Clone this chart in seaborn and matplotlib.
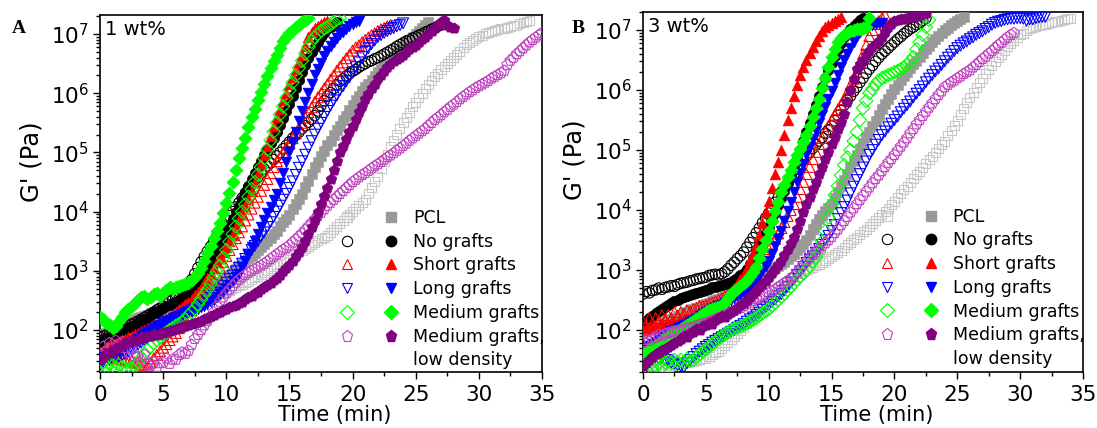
import numpy as np
import matplotlib
matplotlib.use("Agg")
import matplotlib.pyplot as plt
from matplotlib.lines import Line2D
from matplotlib.legend_handler import HandlerTuple
from matplotlib.ticker import LogLocator, MultipleLocator, NullFormatter
import seaborn as sns

OUTPUT_FILE = "out.png"
T_STEP = 0.25  # one reading every 15 s, first reading at t = 0
Y_DECADES = [1e2, 1e3, 1e4, 1e5, 1e6, 1e7]

# log10 of G' (Pa), one value per reading -- panel A, 1 wt%
a_pcl_open = [
    1.90, 1.92, 1.94, 1.96, 1.98, 1.99, 2.01, 2.03, 2.05, 2.07, 2.09, 2.10, 2.12, 2.14, 2.16, 2.18,
    2.20, 2.22, 2.24, 2.26, 2.27, 2.29, 2.31, 2.33, 2.35, 2.37, 2.39, 2.41, 2.43, 2.45, 2.47, 2.49,
    2.50, 2.52, 2.54, 2.56, 2.57, 2.59, 2.61, 2.63, 2.65, 2.67, 2.70, 2.72, 2.75, 2.77, 2.80, 2.82,
    2.85, 2.88, 2.91, 2.94, 2.97, 3.00, 3.04, 3.07, 3.10, 3.13, 3.16, 3.19, 3.22, 3.25, 3.29, 3.32,
    3.35, 3.38, 3.41, 3.45, 3.48, 3.51, 3.54, 3.57, 3.60, 3.65, 3.70, 3.75, 3.80, 3.85, 3.90, 3.95,
    4.00, 4.05, 4.10, 4.15, 4.20, 4.30, 4.40, 4.50, 4.60, 4.72, 4.85, 4.97, 5.10, 5.20, 5.30, 5.40,
    5.50, 5.59, 5.68, 5.77, 5.85, 5.93, 6.00, 6.08, 6.15, 6.21, 6.28, 6.34, 6.40, 6.45, 6.50, 6.55,
    6.60, 6.66, 6.71, 6.77, 6.82, 6.85, 6.89, 6.92, 6.95, 6.97, 7.00, 7.02, 7.05, 7.06, 7.07, 7.09,
    7.10, 7.11, 7.12, 7.14, 7.15, 7.17, 7.19, 7.21, 7.22,
]
a_pcl_filled = [
    1.90, 1.93, 1.95, 1.98, 2.00, 2.03, 2.06, 2.09, 2.12, 2.14, 2.16, 2.18, 2.20, 2.22, 2.24, 2.26,
    2.28, 2.30, 2.32, 2.33, 2.35, 2.37, 2.39, 2.41, 2.43, 2.45, 2.47, 2.50, 2.52, 2.54, 2.56, 2.58,
    2.60, 2.63, 2.66, 2.69, 2.72, 2.76, 2.80, 2.84, 2.88, 2.93, 2.98, 3.03, 3.08, 3.12, 3.16, 3.21,
    3.25, 3.30, 3.35, 3.40, 3.45, 3.51, 3.56, 3.62, 3.68, 3.75, 3.82, 3.88, 3.95, 4.04, 4.12, 4.21,
    4.30, 4.41, 4.52, 4.64, 4.75, 4.84, 4.94, 5.03, 5.12, 5.20, 5.29, 5.37, 5.45, 5.54, 5.62, 5.71,
    5.80, 5.88, 5.95, 6.03, 6.10, 6.16, 6.23, 6.29, 6.35, 6.41, 6.47, 6.52, 6.58, 6.63, 6.68, 6.73,
    6.78, 6.84, 6.89, 6.95, 7.00, 7.05, 7.10, 7.15, 7.20,
]
a_nograft_open = [
    1.88, 1.90, 1.92, 1.93, 1.95, 1.97, 2.00, 2.02, 2.05, 2.07, 2.10, 2.12, 2.15, 2.18, 2.21, 2.24,
    2.27, 2.30, 2.34, 2.37, 2.40, 2.44, 2.48, 2.51, 2.55, 2.60, 2.65, 2.70, 2.75, 2.85, 2.95, 3.05,
    3.15, 3.24, 3.33, 3.41, 3.50, 3.59, 3.68, 3.76, 3.85, 3.93, 4.00, 4.08, 4.15, 4.23, 4.30, 4.38,
    4.45, 4.52, 4.58, 4.65, 4.72, 4.77, 4.82, 4.88, 4.94, 5.00, 5.06, 5.12, 5.18, 5.24, 5.29, 5.34,
    5.40, 5.45, 5.51, 5.56, 5.62, 5.70, 5.79, 5.87, 5.95, 6.01, 6.08, 6.14, 6.20, 6.24, 6.29, 6.33,
    6.37, 6.40, 6.44, 6.47, 6.50, 6.53, 6.55, 6.58, 6.60, 6.63, 6.66, 6.69, 6.72, 6.75, 6.79, 6.82,
    6.85, 6.88, 6.90, 6.93, 6.95, 6.98, 7.00, 7.03, 7.05, 7.08, 7.10, 7.13, 7.15,
]
a_nograft_filled = [
    1.80, 1.84, 1.86, 1.88, 1.90, 1.93, 1.95, 1.98, 2.00, 2.05, 2.04, 2.09, 2.12, 2.17, 2.15, 2.21,
    2.25, 2.30, 2.29, 2.34, 2.37, 2.41, 2.42, 2.45, 2.48, 2.51, 2.54, 2.57, 2.60, 2.66, 2.72, 2.78,
    2.85, 2.94, 3.02, 3.11, 3.20, 3.31, 3.43, 3.54, 3.65, 3.76, 3.88, 3.99, 4.10, 4.21, 4.33, 4.44,
    4.55, 4.65, 4.75, 4.85, 4.95, 5.05, 5.15, 5.25, 5.35, 5.47, 5.58, 5.70, 5.82, 5.95, 6.09, 6.22,
    6.35, 6.48, 6.60, 6.69, 6.78, 6.87, 6.95, 7.02, 7.08, 7.12, 7.15, 7.20,
]
a_short_open = [
    1.60, 1.62, 1.58, 1.55, 1.55, 1.57, 1.52, 1.50, 1.50, 1.47, 1.48, 1.45, 1.45, 1.40, 1.42, 1.38,
    1.45, 1.52, 1.58, 1.64, 1.70, 1.76, 1.83, 1.89, 1.95, 2.03, 2.10, 2.18, 2.25, 2.33, 2.40, 2.48,
    2.55, 2.62, 2.70, 2.78, 2.85, 2.95, 3.05, 3.15, 3.25, 3.35, 3.45, 3.55, 3.65, 3.75, 3.85, 3.95,
    4.05, 4.15, 4.25, 4.35, 4.45, 4.55, 4.65, 4.75, 4.85, 4.92, 5.00, 5.08, 5.15, 5.24, 5.32, 5.41,
    5.50, 5.59, 5.68, 5.76, 5.85, 5.93, 6.00, 6.08, 6.15, 6.23, 6.30, 6.38, 6.45, 6.52, 6.59, 6.65,
    6.72, 6.77, 6.81, 6.86, 6.90, 6.94, 6.98, 7.01, 7.05, 7.08, 7.10, 7.13, 7.15,
]
a_short_filled = [
    1.60, 1.65, 1.68, 1.72, 1.75, 1.78, 1.80, 1.83, 1.85, 1.88, 1.90, 1.93, 1.95, 1.98, 2.00, 2.03,
    2.05, 2.08, 2.10, 2.13, 2.15, 2.19, 2.22, 2.26, 2.30, 2.35, 2.39, 2.44, 2.48, 2.53, 2.59, 2.64,
    2.70, 2.79, 2.88, 2.96, 3.05, 3.14, 3.22, 3.31, 3.40, 3.50, 3.61, 3.72, 3.85, 3.97, 4.10, 4.22,
    4.35, 4.50, 4.65, 4.80, 4.95, 5.11, 5.28, 5.44, 5.60, 5.74, 5.88, 6.01, 6.15, 6.28, 6.40, 6.53,
    6.65, 6.80, 6.95, 7.03, 7.10, 7.13, 7.17, 7.20, 7.22,
]
a_long_open = [
    1.45, 1.46, 1.48, 1.49, 1.50, 1.52, 1.55, 1.57, 1.60, 1.64, 1.68, 1.71, 1.75, 1.79, 1.83, 1.86,
    1.90, 1.94, 1.98, 2.01, 2.05, 2.08, 2.12, 2.15, 2.18, 2.21, 2.24, 2.27, 2.30, 2.33, 2.36, 2.39,
    2.42, 2.46, 2.50, 2.54, 2.58, 2.63, 2.69, 2.74, 2.80, 2.86, 2.92, 2.99, 3.05, 3.12, 3.20, 3.27,
    3.35, 3.42, 3.50, 3.58, 3.65, 3.74, 3.82, 3.91, 4.00, 4.10, 4.20, 4.30, 4.40, 4.51, 4.62, 4.74,
    4.85, 4.96, 5.08, 5.19, 5.30, 5.40, 5.50, 5.60, 5.70, 5.79, 5.88, 5.96, 6.05, 6.12, 6.20, 6.27,
    6.35, 6.44, 6.52, 6.61, 6.70, 6.76, 6.83, 6.89, 6.95, 6.98, 7.02, 7.05, 7.08, 7.10, 7.13, 7.15,
    7.18,
]
a_long_filled = [
    1.55, 1.56, 1.58, 1.59, 1.60, 1.62, 1.65, 1.67, 1.70, 1.74, 1.78, 1.81, 1.85, 1.89, 1.93, 1.96,
    2.00, 2.03, 2.06, 2.09, 2.12, 2.15, 2.17, 2.20, 2.22, 2.24, 2.26, 2.28, 2.30, 2.32, 2.34, 2.36,
    2.38, 2.41, 2.44, 2.47, 2.50, 2.55, 2.60, 2.65, 2.70, 2.76, 2.82, 2.89, 2.95, 3.06, 3.17, 3.29,
    3.40, 3.51, 3.62, 3.74, 3.85, 3.97, 4.08, 4.19, 4.30, 4.48, 4.65, 4.83, 5.00, 5.18, 5.35, 5.53,
    5.70, 5.85, 6.00, 6.15, 6.30, 6.41, 6.51, 6.62, 6.72, 6.79, 6.86, 6.93, 7.00, 7.04, 7.09, 7.13,
    7.17, 7.20, 7.22,
]
a_medium_open = [
    1.40, 1.45, 1.38, 1.42, 1.40, 1.36, 1.41, 1.37, 1.35, 1.33, 1.36, 1.38, 1.45, 1.52, 1.60, 1.66,
    1.72, 1.78, 1.83, 1.87, 1.92, 1.96, 2.00, 2.03, 2.07, 2.10, 2.14, 2.17, 2.25, 2.30, 2.36, 2.44,
    2.52, 2.60, 2.68, 2.78, 2.88, 2.98, 3.08, 3.22, 3.35, 3.49, 3.62, 3.75, 3.88, 4.00, 4.12, 4.25,
    4.38, 4.50, 4.62, 4.75, 4.90, 5.05, 5.20, 5.35, 5.50, 5.64, 5.78, 5.92, 6.05, 6.18, 6.30, 6.43,
    6.55, 6.67, 6.78, 6.87, 6.95, 7.00, 7.05, 7.09, 7.12, 7.16, 7.20, 7.24, 7.27,
]
a_medium_filled = [
    2.22, 2.18, 2.12, 2.08, 2.03, 2.06, 2.15, 2.22, 2.30, 2.35, 2.40, 2.46, 2.50, 2.55, 2.58, 2.53,
    2.55, 2.60, 2.62, 2.58, 2.62, 2.68, 2.72, 2.70, 2.72, 2.75, 2.76, 2.78, 2.80, 2.85, 2.90, 2.97,
    3.05, 3.17, 3.30, 3.42, 3.55, 3.67, 3.80, 3.97, 4.15, 4.32, 4.50, 4.70, 4.90, 5.08, 5.25, 5.43,
    5.60, 5.74, 5.88, 6.02, 6.15, 6.29, 6.42, 6.54, 6.65, 6.77, 6.88, 6.95, 7.02, 7.07, 7.12, 7.16,
    7.20, 7.24, 7.27,
]
a_lowdens_open = [
    1.60, 1.72, 1.65, 1.78, 1.75, 1.82, 1.70, 1.80, 1.70, 1.62, 1.68, 1.55, 1.55, 1.48, 1.58, 1.42,
    1.40, 1.46, 1.38, 1.44, 1.45, 1.52, 1.43, 1.50, 1.50, 1.58, 1.62, 1.60, 1.65, 1.75, 1.85, 1.92,
    2.00, 2.08, 2.15, 2.22, 2.30, 2.40, 2.48, 2.55, 2.62, 2.68, 2.74, 2.80, 2.85, 2.89, 2.93, 2.97,
    3.00, 3.03, 3.06, 3.09, 3.12, 3.16, 3.20, 3.24, 3.28, 3.32, 3.36, 3.39, 3.43, 3.48, 3.53, 3.58,
    3.63, 3.69, 3.75, 3.81, 3.87, 3.93, 3.98, 4.04, 4.10, 4.15, 4.20, 4.25, 4.30, 4.35, 4.40, 4.45,
    4.50, 4.54, 4.58, 4.62, 4.65, 4.69, 4.73, 4.77, 4.80, 4.84, 4.88, 4.92, 4.95, 4.99, 5.03, 5.07,
    5.11, 5.15, 5.20, 5.24, 5.28, 5.32, 5.36, 5.40, 5.45, 5.50, 5.55, 5.59, 5.63, 5.68, 5.72, 5.77,
    5.81, 5.85, 5.90, 5.94, 5.98, 6.02, 6.05, 6.09, 6.12, 6.15, 6.18, 6.21, 6.25, 6.28, 6.31, 6.34,
    6.38, 6.48, 6.55, 6.60, 6.66, 6.71, 6.76, 6.81, 6.86, 6.90, 6.94, 6.98, 7.02,
]
a_lowdens_filled = [
    1.50, 1.55, 1.60, 1.62, 1.65, 1.70, 1.72, 1.75, 1.78, 1.80, 1.83, 1.82, 1.85, 1.88, 1.86, 1.89,
    1.90, 1.93, 1.92, 1.94, 1.95, 1.97, 1.99, 2.00, 2.02, 2.04, 2.05, 2.07, 2.08, 2.10, 2.12, 2.13,
    2.15, 2.18, 2.20, 2.23, 2.25, 2.28, 2.30, 2.33, 2.35, 2.38, 2.40, 2.43, 2.45, 2.48, 2.52, 2.55,
    2.58, 2.62, 2.65, 2.69, 2.72, 2.76, 2.80, 2.84, 2.88, 2.93, 2.99, 3.04, 3.10, 3.17, 3.25, 3.32,
    3.40, 3.51, 3.62, 3.74, 3.85, 3.99, 4.12, 4.26, 4.40, 4.55, 4.70, 4.85, 5.00, 5.11, 5.23, 5.34,
    5.45, 5.56, 5.68, 5.79, 5.90, 5.99, 6.08, 6.16, 6.25, 6.31, 6.38, 6.44, 6.50, 6.54, 6.58, 6.61,
    6.65, 6.69, 6.74, 6.78, 6.82, 6.86, 6.91, 6.95, 7.00, 7.05, 7.10, 7.15, 7.20, 7.24, 7.15, 7.12,
    7.10,
]

# log10 of G' (Pa), one value per reading -- panel B, 3 wt%
b_pcl_open = [
    1.30, 1.31, 1.33, 1.34, 1.35, 1.36, 1.38, 1.39, 1.40, 1.41, 1.43, 1.44, 1.45, 1.46, 1.47, 1.47,
    1.48, 1.49, 1.51, 1.52, 1.53, 1.56, 1.59, 1.62, 1.65, 1.70, 1.75, 1.80, 1.85, 1.90, 1.95, 2.00,
    2.05, 2.11, 2.18, 2.24, 2.30, 2.36, 2.43, 2.49, 2.55, 2.59, 2.64, 2.68, 2.72, 2.76, 2.80, 2.83,
    2.87, 2.90, 2.94, 2.97, 3.00, 3.03, 3.05, 3.08, 3.10, 3.13, 3.16, 3.19, 3.22, 3.26, 3.30, 3.33,
    3.37, 3.42, 3.46, 3.51, 3.55, 3.59, 3.64, 3.68, 3.72, 3.77, 3.82, 3.87, 3.92, 3.98, 4.03, 4.09,
    4.15, 4.21, 4.28, 4.34, 4.40, 4.46, 4.53, 4.59, 4.65, 4.71, 4.78, 4.84, 4.90, 4.96, 5.03, 5.09,
    5.15, 5.24, 5.32, 5.41, 5.50, 5.60, 5.69, 5.79, 5.88, 5.96, 6.04, 6.12, 6.20, 6.27, 6.34, 6.41,
    6.48, 6.54, 6.60, 6.66, 6.72, 6.77, 6.82, 6.87, 6.92, 6.95, 6.99, 7.02, 7.05, 7.06, 7.08, 7.09,
    7.10, 7.11, 7.13, 7.14, 7.15, 7.16, 7.18, 7.19, 7.20,
]
b_pcl_filled = [
    1.95, 1.98, 2.00, 2.03, 2.05, 2.08, 2.10, 2.13, 2.15, 2.18, 2.20, 2.23, 2.25, 2.28, 2.30, 2.33,
    2.35, 2.37, 2.39, 2.41, 2.43, 2.45, 2.48, 2.50, 2.52, 2.55, 2.57, 2.60, 2.62, 2.65, 2.68, 2.72,
    2.75, 2.77, 2.80, 2.82, 2.85, 2.88, 2.91, 2.94, 2.97, 3.00, 3.04, 3.07, 3.10, 3.14, 3.18, 3.23,
    3.27, 3.33, 3.38, 3.44, 3.50, 3.59, 3.68, 3.76, 3.85, 3.91, 3.98, 4.04, 4.10, 4.20, 4.30, 4.40,
    4.50, 4.60, 4.71, 4.81, 4.92, 5.02, 5.11, 5.21, 5.30, 5.40, 5.49, 5.59, 5.68, 5.77, 5.85, 5.94,
    6.02, 6.09, 6.16, 6.23, 6.30, 6.36, 6.43, 6.49, 6.55, 6.61, 6.68, 6.74, 6.80, 6.85, 6.90, 6.95,
    7.00, 7.04, 7.08, 7.11, 7.15, 7.19, 7.22,
]
b_nograft_open = [
    2.60, 2.64, 2.62, 2.66, 2.67, 2.70, 2.68, 2.71, 2.72, 2.74, 2.73, 2.76, 2.78, 2.79, 2.80, 2.82,
    2.83, 2.85, 2.86, 2.87, 2.88, 2.91, 2.92, 2.93, 2.92, 2.94, 2.97, 3.02, 3.08, 3.13, 3.19, 3.24,
    3.30, 3.38, 3.46, 3.54, 3.62, 3.70, 3.79, 3.87, 3.95, 4.04, 4.13, 4.21, 4.30, 4.38, 4.45, 4.53,
    4.60, 4.68, 4.75, 4.83, 4.90, 4.96, 5.03, 5.09, 5.15, 5.21, 5.28, 5.34, 5.40, 5.49, 5.58, 5.66,
    5.75, 5.83, 5.90, 5.98, 6.05, 6.13, 6.20, 6.28, 6.35, 6.41, 6.48, 6.54, 6.60, 6.65, 6.70, 6.75,
    6.80, 6.85, 6.89, 6.94, 6.98, 7.02, 7.05, 7.09, 7.12, 7.16, 7.20,
]
b_nograft_filled = [
    2.15, 2.12, 2.20, 2.24, 2.28, 2.32, 2.35, 2.39, 2.42, 2.45, 2.48, 2.50, 2.53, 2.55, 2.57, 2.58,
    2.60, 2.62, 2.64, 2.65, 2.67, 2.69, 2.71, 2.72, 2.74, 2.75, 2.77, 2.78, 2.80, 2.83, 2.87, 2.91,
    2.95, 3.02, 3.10, 3.20, 3.30, 3.40, 3.50, 3.61, 3.72, 3.83, 3.95, 4.08, 4.20, 4.32, 4.45, 4.58,
    4.72, 4.86, 5.00, 5.15, 5.30, 5.45, 5.60, 5.75, 5.90, 6.05, 6.20, 6.33, 6.45, 6.57, 6.68, 6.78,
    6.88, 6.95, 7.02, 7.07, 7.12, 7.16, 7.20,
]
b_short_open = [
    2.15, 2.08, 2.20, 2.12, 2.20, 2.15, 2.25, 2.18, 2.25, 2.20, 2.30, 2.24, 2.30, 2.27, 2.33, 2.31,
    2.35, 2.37, 2.40, 2.40, 2.42, 2.44, 2.46, 2.48, 2.50, 2.53, 2.56, 2.59, 2.62, 2.66, 2.71, 2.75,
    2.80, 2.86, 2.92, 2.99, 3.05, 3.12, 3.20, 3.27, 3.35, 3.44, 3.52, 3.61, 3.70, 3.80, 3.90, 4.00,
    4.10, 4.22, 4.35, 4.47, 4.60, 4.72, 4.85, 4.97, 5.10, 5.20, 5.30, 5.40, 5.50, 5.59, 5.68, 5.76,
    5.85, 5.96, 6.08, 6.19, 6.30, 6.45, 6.60, 6.75, 6.90, 7.00, 7.10, 7.15, 7.20, 7.25,
]
b_short_filled = [
    2.00, 2.01, 2.03, 2.04, 2.05, 2.06, 2.08, 2.09, 2.10, 2.11, 2.13, 2.14, 2.15, 2.16, 2.18, 2.19,
    2.20, 2.23, 2.25, 2.28, 2.30, 2.32, 2.35, 2.37, 2.40, 2.45, 2.51, 2.56, 2.62, 2.70, 2.77, 2.85,
    2.92, 3.04, 3.16, 3.28, 3.40, 3.59, 3.78, 3.96, 4.15, 4.37, 4.60, 4.80, 5.00, 5.25, 5.50, 5.70,
    5.90, 6.08, 6.25, 6.38, 6.50, 6.61, 6.72, 6.81, 6.90, 6.98, 7.05, 7.09, 7.12, 7.15, 7.18, 7.22,
]
b_long_open = [
    1.62, 1.58, 1.60, 1.55, 1.55, 1.52, 1.54, 1.50, 1.50, 1.46, 1.44, 1.42, 1.40, 1.38, 1.45, 1.50,
    1.55, 1.60, 1.64, 1.68, 1.72, 1.75, 1.79, 1.82, 1.85, 1.88, 1.91, 1.94, 1.97, 2.00, 2.04, 2.07,
    2.10, 2.14, 2.18, 2.21, 2.25, 2.29, 2.34, 2.38, 2.42, 2.47, 2.51, 2.56, 2.60, 2.66, 2.72, 2.79,
    2.85, 2.92, 2.98, 3.05, 3.12, 3.18, 3.23, 3.29, 3.35, 3.42, 3.50, 3.57, 3.65, 3.75, 3.85, 3.95,
    4.05, 4.16, 4.28, 4.39, 4.50, 4.60, 4.71, 4.81, 4.92, 5.00, 5.09, 5.17, 5.25, 5.31, 5.38, 5.44,
    5.50, 5.56, 5.63, 5.69, 5.75, 5.81, 5.88, 5.94, 6.00, 6.06, 6.13, 6.19, 6.25, 6.31, 6.36, 6.42,
    6.48, 6.54, 6.59, 6.65, 6.70, 6.74, 6.78, 6.81, 6.85, 6.88, 6.92, 6.95, 6.98, 7.02, 7.05, 7.09,
    7.12, 7.14, 7.15, 7.17, 7.18, 7.19, 7.19, 7.20, 7.20, 7.19, 7.16, 7.18, 7.18, 7.20, 7.21, 7.22,
    7.22,
]
b_long_filled = [
    1.65, 1.70, 1.73, 1.77, 1.80, 1.84, 1.88, 1.91, 1.95, 1.98, 2.00, 2.03, 2.05, 2.08, 2.10, 2.13,
    2.15, 2.19, 2.23, 2.26, 2.30, 2.32, 2.35, 2.37, 2.40, 2.42, 2.45, 2.47, 2.50, 2.53, 2.56, 2.59,
    2.62, 2.67, 2.72, 2.77, 2.82, 2.90, 2.98, 3.07, 3.15, 3.27, 3.40, 3.52, 3.65, 3.81, 3.98, 4.14,
    4.30, 4.46, 4.62, 4.77, 4.92, 5.05, 5.18, 5.32, 5.45, 5.58, 5.72, 5.85, 5.98, 6.12, 6.25, 6.38,
    6.50, 6.60, 6.70, 6.80, 6.90, 6.96, 7.02, 7.05, 7.08, 7.09, 7.10, 7.11, 7.12,
]
b_medium_open = [
    1.40, 1.35, 1.42, 1.38, 1.40, 1.44, 1.38, 1.46, 1.48, 1.45, 1.50, 1.47, 1.50, 1.46, 1.52, 1.48,
    1.50, 1.55, 1.60, 1.64, 1.68, 1.72, 1.77, 1.81, 1.85, 1.89, 1.93, 1.96, 2.00, 2.02, 2.04, 2.06,
    2.08, 2.11, 2.14, 2.17, 2.20, 2.24, 2.28, 2.31, 2.35, 2.40, 2.45, 2.50, 2.55, 2.61, 2.67, 2.72,
    2.78, 2.84, 2.89, 2.95, 3.00, 3.07, 3.15, 3.22, 3.30, 3.47, 3.65, 3.88, 4.10, 4.25, 4.40, 4.58,
    4.75, 4.88, 5.00, 5.15, 5.30, 5.50, 5.70, 5.82, 5.95, 6.02, 6.10, 6.16, 6.20, 6.22, 6.25, 6.27,
    6.30, 6.32, 6.35, 6.38, 6.42, 6.48, 6.55, 6.68, 6.80, 6.92, 7.05, 7.17,
]
b_medium_filled = [
    1.60, 1.64, 1.68, 1.71, 1.75, 1.79, 1.83, 1.86, 1.90, 1.93, 1.96, 1.99, 2.02, 2.05, 2.08, 2.12,
    2.15, 2.19, 2.23, 2.26, 2.30, 2.33, 2.35, 2.36, 2.38, 2.42, 2.47, 2.53, 2.60, 2.65, 2.69, 2.74,
    2.78, 2.84, 2.90, 2.97, 3.05, 3.20, 3.35, 3.50, 3.65, 3.81, 3.98, 4.14, 4.30, 4.42, 4.55, 4.67,
    4.80, 4.91, 5.02, 5.14, 5.25, 5.40, 5.55, 5.70, 5.85, 6.03, 6.20, 6.38, 6.55, 6.68, 6.80, 6.87,
    6.92, 6.95, 6.98, 7.00, 7.02, 7.02, 7.03, 7.05, 7.20,
]
b_lowdens_open = [
    1.80, 1.84, 1.82, 1.86, 1.88, 1.92, 1.90, 1.94, 1.95, 1.97, 1.98, 1.99, 2.00, 2.01, 2.03, 2.04,
    2.05, 2.07, 2.09, 2.10, 2.12, 2.14, 2.16, 2.18, 2.20, 2.22, 2.25, 2.27, 2.30, 2.32, 2.35, 2.37,
    2.40, 2.43, 2.46, 2.49, 2.52, 2.54, 2.57, 2.59, 2.62, 2.65, 2.68, 2.72, 2.75, 2.79, 2.82, 2.86,
    2.90, 2.96, 3.02, 3.09, 3.15, 3.20, 3.25, 3.30, 3.35, 3.40, 3.45, 3.50, 3.55, 3.62, 3.68, 3.75,
    3.82, 3.89, 3.96, 4.03, 4.10, 4.17, 4.24, 4.31, 4.38, 4.45, 4.52, 4.58, 4.65, 4.72, 4.79, 4.85,
    4.92, 4.99, 5.06, 5.13, 5.20, 5.28, 5.35, 5.43, 5.50, 5.57, 5.64, 5.71, 5.78, 5.85, 5.92, 5.98,
    6.05, 6.09, 6.13, 6.16, 6.20, 6.23, 6.27, 6.30, 6.33, 6.38, 6.42, 6.47, 6.52, 6.56, 6.61, 6.65,
    6.70, 6.75, 6.79, 6.84, 6.88, 6.92, 6.95,
]
b_lowdens_filled = [
    1.40, 1.45, 1.50, 1.55, 1.60, 1.63, 1.66, 1.69, 1.72, 1.75, 1.79, 1.82, 1.85, 1.90, 1.88, 1.95,
    1.97, 2.02, 2.00, 2.06, 2.08, 2.12, 2.10, 2.16, 2.20, 2.24, 2.22, 2.27, 2.30, 2.34, 2.37, 2.41,
    2.45, 2.50, 2.55, 2.60, 2.65, 2.71, 2.76, 2.82, 2.88, 2.95, 3.01, 3.08, 3.15, 3.25, 3.35, 3.45,
    3.55, 3.69, 3.82, 3.96, 4.10, 4.22, 4.35, 4.47, 4.60, 4.72, 4.85, 4.97, 5.10, 5.22, 5.35, 5.47,
    5.60, 5.80, 6.00, 6.18, 6.35, 6.43, 6.50, 6.58, 6.65, 6.71, 6.76, 6.82, 6.88, 6.96, 7.05, 7.10,
    7.15, 7.16, 7.18, 7.19, 7.20, 7.21, 7.22, 7.24, 7.25, 7.27, 7.28,
]

LEGEND_LABELS = ["PCL", "No grafts", "Short grafts", "Long grafts", "Medium grafts",
                 "Medium grafts,", "low density"]

# marker, open edge colour, filled colour, marker size (pt)
STYLES = [
    ("s", "#c8c8c8", "#999999", 6.5),
    ("o", "#000000", "#000000", 7.5),
    ("^", "#ff0000", "#ff0000", 7.8),
    ("v", "#0000ff", "#0000ff", 7.8),
    ("D", "#00ff00", "#00ff00", 6.8),
    ("p", "#c040c0", "#800080", 8.2),
]


def draw_series(ax, values, marker, color, size, filled):
    """Scatter one G'(t) curve; values are log10 G' sampled every T_STEP min."""
    t = np.arange(len(values)) * T_STEP
    g = 10 ** np.asarray(values)
    if filled:
        sns.scatterplot(x=t, y=g, marker=marker, s=size ** 2, color=color,
                        edgecolor=color, linewidth=0.4, ax=ax, zorder=3)
    else:
        sns.scatterplot(x=t, y=g, marker=marker, s=size ** 2, facecolor="none",
                        edgecolor=color, linewidth=0.8, ax=ax, zorder=3)


def style_axes(ax, note, ylim):
    ax.set_yscale("log")
    ax.set_xlim(0, 35)
    ax.set_ylim(*ylim)
    ax.xaxis.set_major_locator(MultipleLocator(5))
    ax.xaxis.set_minor_locator(MultipleLocator(2.5))
    ax.set_yticks(Y_DECADES)
    ax.yaxis.set_minor_locator(LogLocator(base=10, subs=np.arange(2, 10), numticks=12))
    ax.yaxis.set_minor_formatter(NullFormatter())
    ax.tick_params(which="both", direction="out", top=False, right=False,
                   width=1.0, color="black", labelcolor="black", labelsize=15.5)
    ax.tick_params(axis="x", which="major", length=5, pad=4.5)
    ax.tick_params(axis="y", which="major", length=5, pad=3)
    ax.tick_params(which="minor", length=3)
    for spine in ax.spines.values():
        spine.set_visible(True)
        spine.set_linewidth(1.2)
        spine.set_color("black")
    ax.grid(False)
    ax.set_xlabel("Time (min)", fontsize=15)
    ax.xaxis.set_label_coords(0.53, -0.0925)
    ax.set_ylabel("G' (Pa)", fontsize=17.5)
    ax.yaxis.set_label_coords(-0.128, 0.59)
    ax.text(0.012, 0.985, note, transform=ax.transAxes, ha="left", va="top", fontsize=14)


def add_legend(ax, x_anchor):
    handles = []
    for marker, c_open, c_filled, size in STYLES:
        h_open = Line2D([], [], linestyle="none", marker=marker, markersize=size,
                        markerfacecolor="none", markeredgecolor=c_open, markeredgewidth=0.8)
        h_fill = Line2D([], [], linestyle="none", marker=marker, markersize=size,
                        markerfacecolor=c_filled, markeredgecolor=c_filled)
        handles.append((h_open, h_fill))
    handles.append(Line2D([], [], linestyle="none"))  # second line of the last label
    ax.legend(handles, LEGEND_LABELS, handler_map={tuple: HandlerTuple(ndivide=None, pad=1.6)},
              loc="upper left", bbox_to_anchor=(x_anchor, 0.476), frameon=False,
              fontsize=12.5, handlelength=3.45, handletextpad=0.8, labelspacing=0.33,
              borderpad=0.4, borderaxespad=0)


def draw_panel(ax, panel_data, note, ylim, x_anchor):
    for (marker, c_open, c_filled, size), (open_vals, filled_vals) in zip(STYLES, panel_data):
        draw_series(ax, open_vals, marker, c_open, size, filled=False)
        draw_series(ax, filled_vals, marker, c_filled, size, filled=True)
    style_axes(ax, note, ylim)
    add_legend(ax, x_anchor)


if __name__ == "__main__":
    sns.set_style("ticks")
    plt.rcParams["font.family"] = ["DejaVu Sans"]
    plt.rcParams["mathtext.default"] = "regular"
    plt.rcParams["text.color"] = "black"
    plt.rcParams["axes.labelcolor"] = "black"

    panel_a = [
        (a_pcl_open, a_pcl_filled),
        (a_nograft_open, a_nograft_filled),
        (a_short_open, a_short_filled),
        (a_long_open, a_long_filled),
        (a_medium_open, a_medium_filled),
        (a_lowdens_open, a_lowdens_filled),
    ]
    panel_b = [
        (b_pcl_open, b_pcl_filled),
        (b_nograft_open, b_nograft_filled),
        (b_short_open, b_short_filled),
        (b_long_open, b_long_filled),
        (b_medium_open, b_medium_filled),
        (b_lowdens_open, b_lowdens_filled),
    ]

    fig = plt.figure(figsize=(10.97, 4.28), dpi=100)
    ax_a = fig.add_axes([0.0912, 0.1308, 0.4029, 0.8341])
    ax_b = fig.add_axes([0.5862, 0.1308, 0.4011, 0.8411])

    draw_panel(ax_a, panel_a, "1 wt%", (19.5, 2.09e7), 0.525)
    draw_panel(ax_b, panel_b, "3 wt%", (20, 2.0e7), 0.52)

    fig.text(0.011, 0.923, "A", fontfamily="Liberation Serif", fontweight="bold",
             fontsize=14, va="baseline")
    fig.text(0.521, 0.923, "B", fontfamily="Liberation Serif", fontweight="bold",
             fontsize=14, va="baseline")

    fig.savefig(OUTPUT_FILE, dpi=100)
